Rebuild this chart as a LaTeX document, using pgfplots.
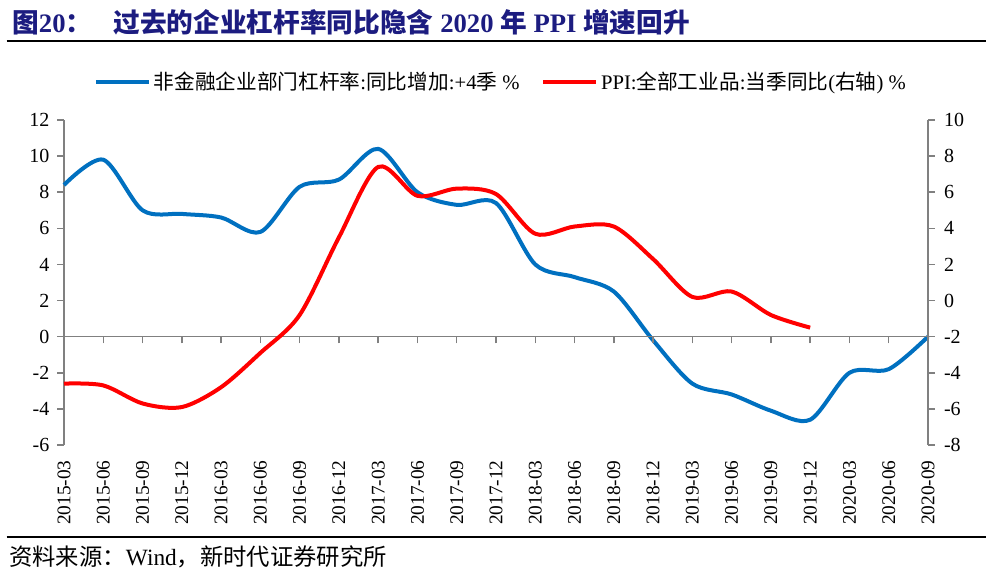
\documentclass[border=0pt]{standalone}
\usepackage{fontspec}
\setmainfont{Liberation Serif}
\newfontfamily\cjk{Noto Sans CJK SC}
\usepackage{pgfplots}
\usepackage{pgfplotstable}
\pgfplotsset{compat=1.18}

\definecolor{serblue}{RGB}{0,112,192}
\definecolor{serred}{RGB}{255,0,0}
\definecolor{axgray}{RGB}{128,128,128}
\definecolor{titleblue}{RGB}{28,28,128}

% quarters 2015-03 ... 2020-09 as 0 ... 22
\pgfplotstableread{
x lev
0 8.4
1 9.8
2 7.0
3 6.8
4 6.6
5 5.8
6 8.3
7 8.7
8 10.4
9 8.0
10 7.3
11 7.4
12 4.0
13 3.3
14 2.5
15 -0.2
16 -2.6
17 -3.2
18 -4.1
19 -4.6
20 -2.0
21 -1.8
22 0.0
}\levtable

\pgfplotstableread{
x ppi
0 -4.6
1 -4.7
2 -5.7
3 -5.9
4 -4.8
5 -2.9
6 -0.8
7 3.5
8 7.4
9 5.8
10 6.2
11 5.9
12 3.7
13 4.1
14 4.1
15 2.3
16 0.2
17 0.5
18 -0.8
19 -1.5
}\ppitable

\pgfplotsset{
  base/.style={
    scale only axis, width=648pt, height=243.75pt,
    at={(0,0)}, anchor=south west,
    xmin=0, xmax=22,
    axis line style={axgray, line width=1.1pt, -},
    major tick length=5pt,
    tick style={axgray, line width=1.1pt},
    tick align=outside,
    ticklabel style={font=\fontsize{15}{15}\selectfont},
    clip=false,
  },
}

\begin{document}
\begin{tikzpicture}
\path[use as bounding box] (-48pt,-97.5pt) rectangle (691.5pt,333.75pt);

% title and rules
\node[anchor=west, inner sep=0pt, text=titleblue, font=\fontsize{20}{20}\selectfont\bfseries]
  at (-39pt,317.25pt)
  {{\cjk 图}20{\cjk ：}\hspace{16pt}{\cjk 过去的企业杠杆率同比隐含} 2020 {\cjk 年} PPI {\cjk 增速回升}};
\draw[line width=1.3pt] (-43pt,303pt) -- (691.5pt,303pt);
\draw[line width=1.3pt] (-43pt,-69pt) -- (691.5pt,-69pt);
\node[anchor=west, inner sep=0pt, font=\fontsize{17.5}{17.5}\selectfont]
  at (-41.25pt,-84pt) {{\cjk 资料来源：}Wind{\cjk ，新时代证券研究所}};

% left axis: leverage
\begin{axis}[base,
  ymin=-6, ymax=12, ytick={-6,-4,...,12},
  yticklabels={-6,-4,-2,0,2,4,6,8,10,12},
  yticklabel style={xshift=-2.5pt},
  axis y line*=left, axis x line*=bottom,
  x axis line style={draw=none},
  xtick={0,...,22},
  xtick style={draw=none},
  xticklabels={2015-03,2015-06,2015-09,2015-12,2016-03,2016-06,2016-09,2016-12,
    2017-03,2017-06,2017-09,2017-12,2018-03,2018-06,2018-09,2018-12,
    2019-03,2019-06,2019-09,2019-12,2020-03,2020-06,2020-09},
  xticklabel style={rotate=90, anchor=east, font=\fontsize{14.5}{14.5}\selectfont},
  xticklabel shift=3pt,
  legend style={at={(0.506,1.117)}, anchor=center, draw=none, fill=none,
    legend columns=2, font=\fontsize{15.5}{15.5}\selectfont,
    /tikz/every even column/.append style={column sep=14pt}},
  legend image code/.code={\draw[#1] (0pt,0pt) -- (40pt,0pt);},
]
\addplot[serblue, line width=3pt, smooth] table[x=x, y=lev] {\levtable};
\addlegendentry{{\cjk 非金融企业部门杠杆率}:{\cjk 同比增加}:+4{\cjk 季} \%}
\addlegendimage{serred, line width=3pt}
\addlegendentry{PPI:{\cjk 全部工业品}:{\cjk 当季同比}({\cjk 右轴}) \%}
\end{axis}

% zero line with quarter ticks
\begin{axis}[base,
  ymin=-6, ymax=12,
  axis x line*=middle, axis y line=none,
  xtick={0,...,22}, xticklabels={},
  ytick=\empty,
]
\end{axis}

% right axis: PPI
\begin{axis}[base,
  ymin=-8, ymax=10, ytick={-8,-6,...,10},
  yticklabels={-8,-6,-4,-2,0,2,4,6,8,10},
  yticklabel style={xshift=3.5pt},
  axis y line*=right, axis x line=none,
  xtick=\empty,
]
\addplot[serred, line width=3pt, smooth] table[x=x, y=ppi] {\ppitable};
\end{axis}
\end{tikzpicture}
\end{document}
